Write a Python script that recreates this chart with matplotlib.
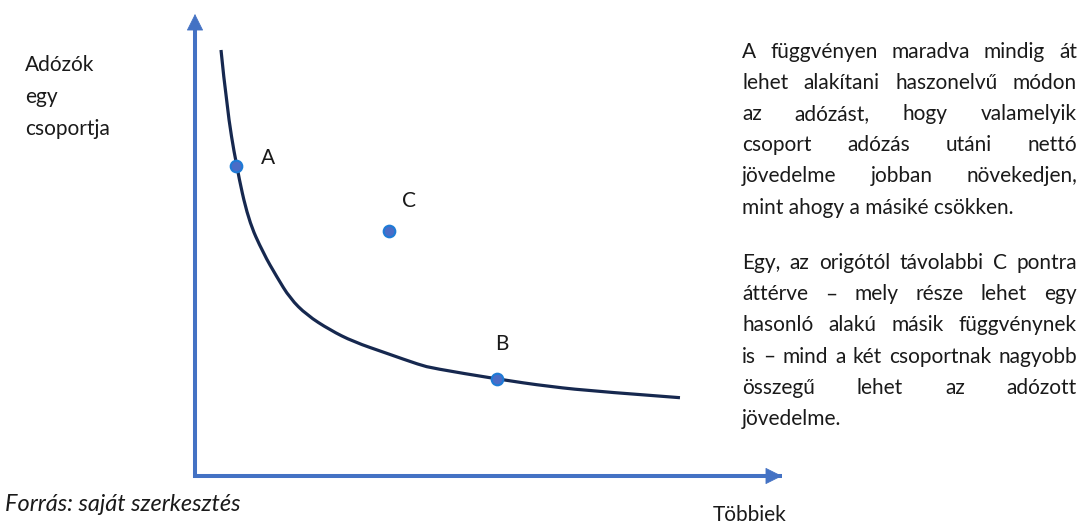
import matplotlib
matplotlib.use("Agg")
import matplotlib.pyplot as plt
from matplotlib.transforms import IdentityTransform
from matplotlib.path import Path
from matplotlib.patches import PathPatch

# ---- data ----
curve_x = [0.443, 0.540, 0.704, 0.908, 1.164, 1.392, 1.618, 1.903, 2.300,
           2.697, 3.266, 3.833, 4.060, 5.140, 6.048, 6.899, 8.262]
curve_y = [9.221, 7.994, 6.710, 5.541, 4.820, 4.314, 3.846, 3.485, 3.160,
           2.907, 2.656, 2.403, 2.331, 2.100, 1.933, 1.825, 1.695]
point_labels = ["A", "B", "C"]
point_x = [0.704, 5.140, 3.305]
point_y = [6.710, 2.100, 5.310]

y_axis_label = ["Adózók", "egy", "csoportja"]
x_axis_label = "Többiek"
source_text = "Forrás: saját szerkesztés"
paragraph1 = ["A függvényen maradva mindig át",
              "lehet alakítani haszonelvű módon",
              "az adózást, hogy valamelyik",
              "csoport adózás utáni nettó",
              "jövedelme jobban növekedjen,",
              "mint ahogy a másiké csökken."]
paragraph2 = ["Egy, az origótól távolabbi C pontra",
              "áttérve – mely része lehet egy",
              "hasonló alakú másik függvénynek",
              "is – mind a két csoportnak nagyobb",
              "összegű lehet az adózott",
              "jövedelme."]

# ---- style ----
W, H = 1084, 525
AXIS_COLOR = "#4472C4"
CURVE_COLOR = "#16284F"
TEXT_COLOR = "#1A1A1A"
FONT = ["Lato", "DejaVu Sans"]
plt.rcParams["font.family"] = FONT

fig = plt.figure(figsize=(W / 100, H / 100), dpi=100)
ax = fig.add_axes([195 / W, (H - 476) / H, 587 / W, 462 / H])
ax.set_xlim(0, 10)
ax.set_ylim(0, 10)
ax.axis("off")

renderer = fig.canvas.get_renderer()


def fit_size(text, target_px, **kw):
    probe = fig.text(0, 0, text, fontsize=10, transform=IdentityTransform(), **kw)
    w = probe.get_window_extent(renderer).width
    probe.remove()
    return 10 * target_px / w


FS = fit_size(x_axis_label, 75)
FS_SRC = fit_size(source_text, 235, style="italic")

# axes: L shape with arrow heads
ax.plot([0, 0, 1], [0.985, 0, 0], transform=ax.transAxes, color=AXIS_COLOR,
        lw=2.9, solid_joinstyle="miter", solid_capstyle="butt", clip_on=False)
for tip, tail in [((0, 1), (0, 0.9)), ((1, 0), (0.95, 0))]:
    ax.annotate("", xy=tip, xytext=tail, xycoords="axes fraction",
                textcoords="axes fraction",
                arrowprops=dict(arrowstyle="-|>,head_length=11,head_width=5.5",
                                mutation_scale=1, color=AXIS_COLOR, lw=0.5,
                                shrinkA=0, shrinkB=0),
                annotation_clip=False)

# curve: smooth quadratic path using the read points as control points
pts = list(zip(curve_x, curve_y))
verts = [pts[0]]
codes = [Path.MOVETO]
for i in range(1, len(pts) - 1):
    mid = ((pts[i][0] + pts[i + 1][0]) / 2, (pts[i][1] + pts[i + 1][1]) / 2)
    verts += [pts[i], mid if i < len(pts) - 2 else pts[-1]]
    codes += [Path.CURVE3, Path.CURVE3]
ax.add_patch(PathPatch(Path(verts, codes), facecolor="none", edgecolor=CURVE_COLOR,
                       lw=2.3, capstyle="butt", joinstyle="round", zorder=3))

# points and labels
ax.scatter(point_x, point_y, s=70, color="#4A6CC6", edgecolor="#1E7BD6",
           linewidth=1.5, zorder=4)
label_offsets = {"A": (22.8, 6.1), "B": (3.8, 25.2), "C": (14.2, 21.4)}
for lab, px, py in zip(point_labels, point_x, point_y):
    ax.annotate(lab, (px, py), xytext=label_offsets[lab], textcoords="offset points",
                ha="center", va="center", fontsize=FS, color=TEXT_COLOR)


def put(text, x, y_base, fs, **kw):
    return fig.text(x, H - y_base, text, transform=IdentityTransform(),
                    ha="left", va="baseline", fontsize=fs,
                    color=TEXT_COLOR, **kw)


def justified(lines, x0, x1, y0, step, fs):
    for i, line in enumerate(lines):
        yb = y0 + i * step
        if i == len(lines) - 1:
            put(line, x0, yb, fs)
            continue
        words = line.split(" ")
        texts = [put(w, 0, yb, fs) for w in words]
        widths = [t.get_window_extent(renderer).width for t in texts]
        gap = (x1 - x0 - sum(widths)) / (len(words) - 1)
        x = x0
        for t, wd in zip(texts, widths):
            t.set_position((x, H - yb))
            x += wd + gap


justified(paragraph1, 742, 1077, 57.5, 31.2, FS)
justified(paragraph2, 742, 1077, 269, 31.2, FS)

for i, line in enumerate(y_axis_label):
    put(line, 25, 71 + i * 32, FS)

put(x_axis_label, 713, 521, FS)
put(source_text, 5, 511, FS_SRC, style="italic")

fig.savefig("out.png", dpi=100)
